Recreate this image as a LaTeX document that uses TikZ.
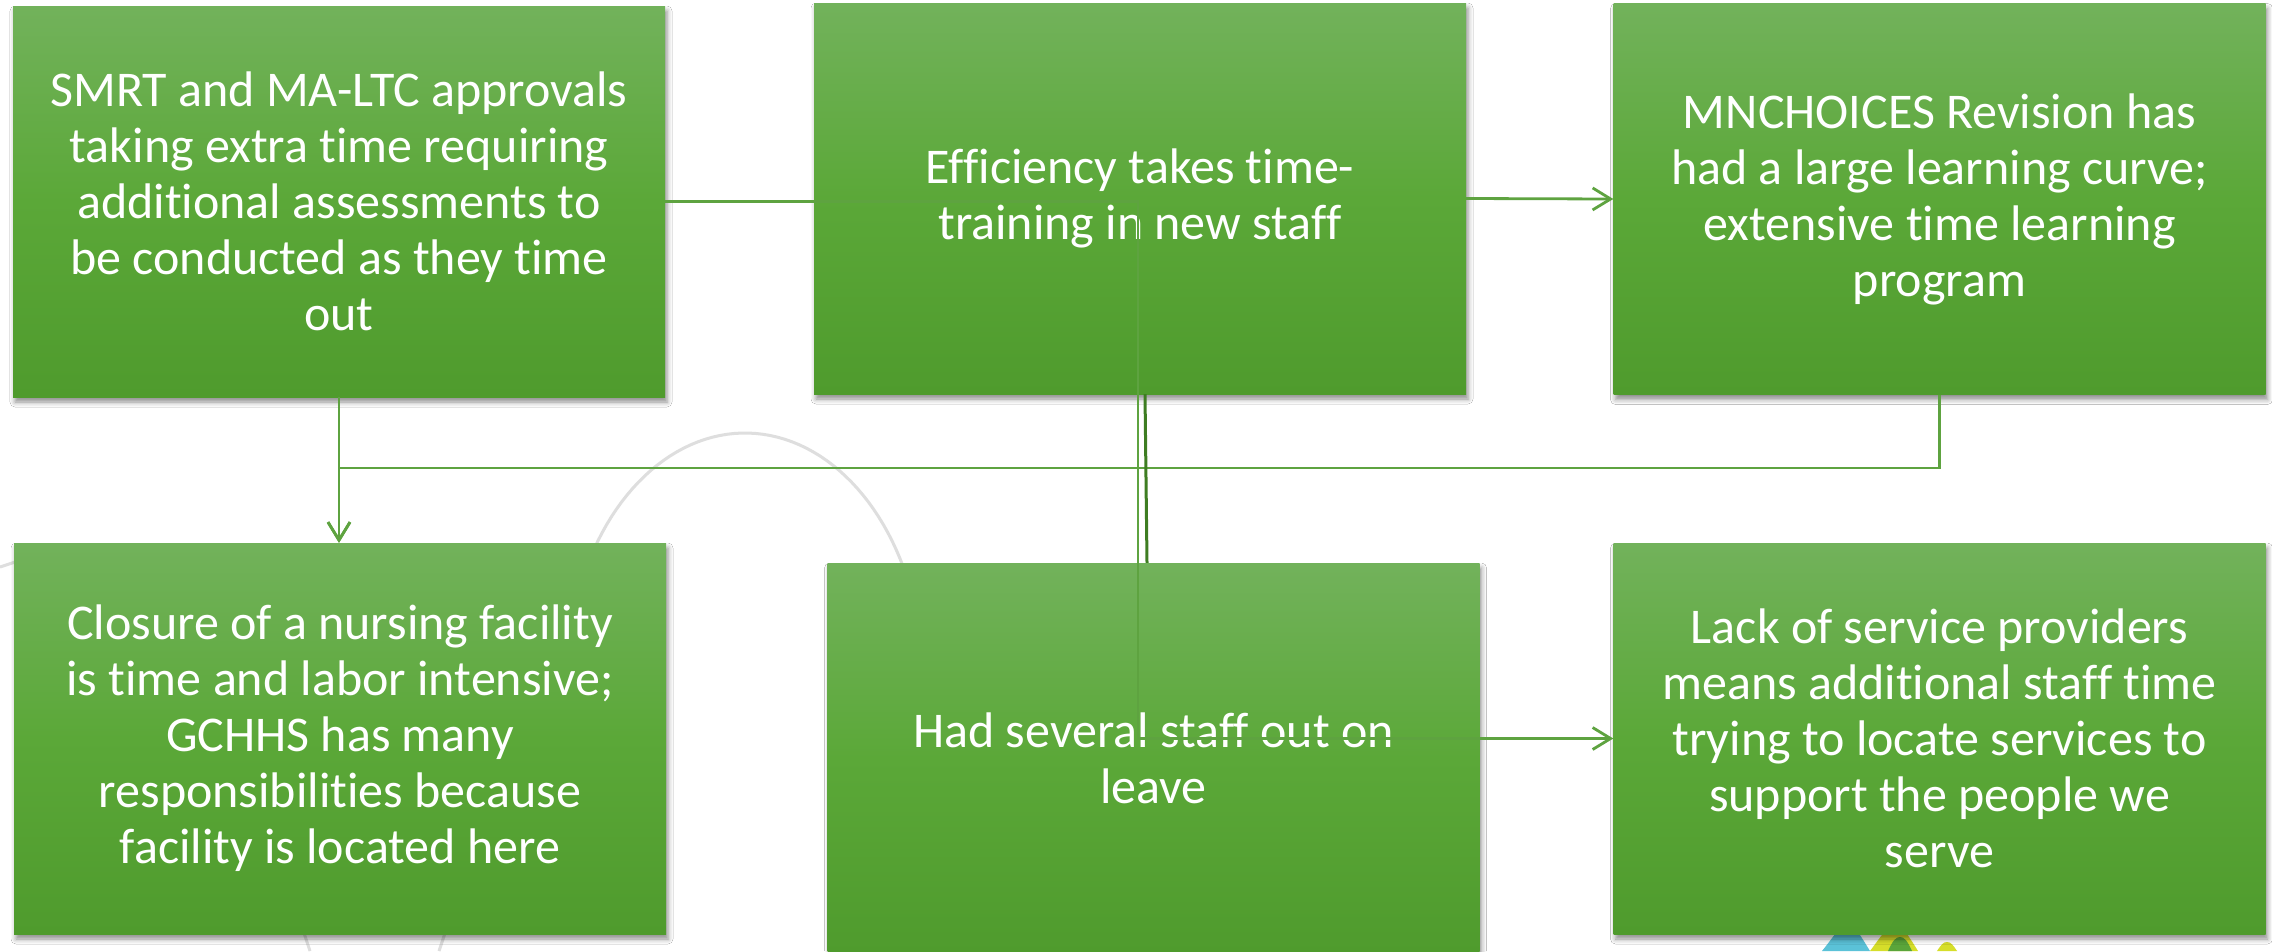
\documentclass[tikz,border=0pt]{standalone}
\usepackage{fontspec}
\setmainfont{Carlito}[RawFeature={-liga;-clig;-dlig;-hlig;-calt;-rlig}]
\usetikzlibrary{arrows.meta,shadows.blur,calc}
\definecolor{boxtop}{HTML}{72B25B}
\definecolor{boxmid}{HTML}{5BA838}
\definecolor{boxbot}{HTML}{4F9B2D}
\definecolor{connc}{HTML}{5EA340}
\definecolor{darkc}{HTML}{3E7D22}
\definecolor{arcgray}{HTML}{DEDEDE}
\definecolor{logoblue}{HTML}{5BC2D8}
\definecolor{logoyellow}{HTML}{D6DE2A}
\definecolor{logogreen}{HTML}{5AA53A}
\begin{document}
\begin{tikzpicture}[x=1pt,y=-1pt,
  stepbox/.style={rectangle, minimum width=652pt, minimum height=391pt, inner sep=0pt,
    top color=boxtop, bottom color=boxbot, middle color=boxmid, text=white, align=center,
    font=\fontsize{50pt}{56pt}\selectfont,
    blur shadow={shadow xshift=2pt, shadow yshift=-5pt, shadow blur radius=5pt, shadow opacity=45}},
  conn/.style={draw=connc, line width=2.8pt},
  tip/.style={-{Straight Barb[length=18pt,width=22pt]}},
  bgarc/.style={draw=arcgray, line width=3pt}
]
\useasboundingbox (0,0) rectangle (2272,951);
\clip (0,0) rectangle (2272,951);
\fill[white] (0,0) rectangle (2272,951);

% background decoration
\draw[bgarc] plot[domain=20:160,samples=60] ({745+178*cos(\x)},{680-247*sin(\x)});
\draw[bgarc] (0,567) -- (18,561);
\draw[bgarc] (303,930) -- (310,951);
\draw[bgarc] (446,930) -- (439,951);
\fill[logoblue] (1822,951) .. controls (1835,935) and (1840,925) .. (1847,925) .. controls (1855,925) and (1860,935) .. (1870,951) -- cycle;
\fill[logoyellow] (1870,951) .. controls (1882,935) and (1888,925) .. (1895,925) .. controls (1902,925) and (1908,935) .. (1918,951) -- cycle;
\fill[logogreen] (1888,951) .. controls (1893,940) and (1896,937) .. (1900,937) .. controls (1904,937) and (1907,940) .. (1912,951) -- cycle;
\fill[logoyellow] (1937,951) .. controls (1941,945) and (1943,942) .. (1947,942) .. controls (1951,942) and (1953,945) .. (1957,951) -- cycle;

% boxes
\node[stepbox] (b1) at (339,201.5) {SMRT and MA-LTC approvals\\taking extra time requiring\\additional assessments to\\be conducted as they time\\out};
\node[stepbox] (b2) at (1140,198.5) {Efficiency takes time-\\training in new staff};
\node[stepbox] (b3) at (1939.5,199) {MNCHOICES Revision has\\had a large learning curve;\\extensive time learning\\program};
\node[stepbox] (b4) at (340,738.5) {Closure of a nursing facility\\is time and labor intensive;\\GCHHS has many\\responsibilities because\\facility is located here};
\node[stepbox] (b5) at (1153.5,758.5) {Had several staff out on\\leave};
\node[stepbox] (b6) at (1939.5,738.5) {Lack of service providers\\means additional staff time\\trying to locate services to\\support the people we\\serve};

% connectors
\coordinate (jx) at (1138,0);
\coordinate (hy) at (0,468);
\draw[conn,tip] (b1.east) -- (b1.east -| jx) -- (jx |- b6.west) -- (b6.west);
\draw[conn,tip] (b2.east) -- (b3.west);
\draw[conn,tip] (b3.south) -- (b3.south |- hy) -- (b1.south |- hy) -- (b1.south |- b4.north);
\draw[conn,tip] (b1.south) -- (b1.south |- b4.north);
\draw[draw=darkc, line width=3pt] ($(b2.south)+(5,0)$) -- ($(b5.north)+(-6.5,0)$);
\end{tikzpicture}
\end{document}
